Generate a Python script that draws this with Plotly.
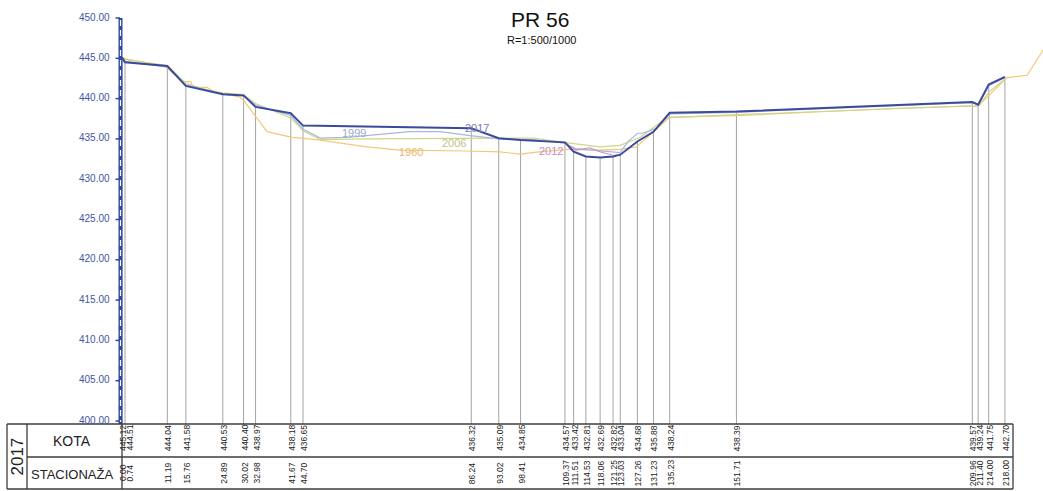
import plotly.graph_objects as go

# ---------------- data ----------------
stations_2017 = [0.00, 0.74, 11.19, 15.76, 24.89, 30.02, 32.98, 41.67, 44.70, 86.24, 93.02, 98.41,
                 109.37, 111.51, 114.53, 118.06, 121.25, 123.03, 127.26, 131.23, 135.23, 151.71,
                 209.96, 211.40, 214.00, 218.00]
kota_2017 = [445.12, 444.51, 444.04, 441.58, 440.53, 440.40, 438.97, 438.18, 436.65, 436.32, 435.09, 434.85,
             434.57, 433.42, 432.81, 432.69, 432.82, 433.04, 434.68, 435.88, 438.24, 438.39,
             439.57, 439.24, 441.75, 442.70]

st_1960 = [0.2, 10.6, 15.0, 17.0, 17.5, 21.0, 23.0, 29.0, 30.0, 35.8, 42.0, 48.0, 60.5, 68.6, 85.0,
           93.3, 98.3, 103.0, 110.0, 118.0, 123.0, 127.0, 135.3, 151.7, 192.0, 211.4, 218.5, 223.5, 227.4]
el_1960 = [445.0, 444.0, 442.1, 442.1, 441.4, 441.4, 440.8, 440.2, 439.8, 435.9, 435.2, 434.9, 434.0, 433.6, 433.5,
           433.4, 433.1, 433.4, 433.7, 433.6, 433.7, 434.0, 437.7, 437.9, 438.8, 439.1, 442.6, 442.9, 446.0]

st_1999 = [0.0, 11.19, 15.76, 24.89, 30.02, 32.98, 41.67, 44.7, 49.0, 55.5, 71.0, 78.5, 86.0, 93.0, 101.5,
           109.0, 112.0, 118.0, 123.0, 125.0, 127.3, 128.5, 132.0, 135.2, 151.7, 209.96, 211.4, 214.0, 218.0]
el_1999 = [444.7, 443.9, 441.7, 440.6, 440.4, 439.2, 437.9, 436.2, 435.1, 435.2, 435.9, 435.9, 435.4, 435.0, 434.9,
           434.5, 433.8, 433.5, 433.3, 434.7, 435.7, 435.7, 436.3, 438.1, 438.3, 439.5, 439.2, 441.6, 442.6]

st_2006 = [0.0, 11.19, 15.76, 20.0, 24.89, 30.02, 32.98, 41.67, 44.7, 49.0, 60.0, 86.0, 93.0, 101.5,
           110.0, 118.0, 123.0, 128.0, 134.5, 151.7, 209.0, 211.4, 214.0, 218.0]
el_2006 = [444.9, 444.1, 441.9, 441.2, 440.7, 440.5, 439.4, 437.6, 436.0, 434.9, 435.0, 435.1, 435.1, 435.1,
           434.5, 434.0, 434.2, 435.2, 437.6, 438.0, 439.1, 439.0, 440.8, 442.4]

st_2012 = [107.0, 109.4, 112.0, 115.5, 118.0, 121.0, 123.0]
el_2012 = [434.6, 434.5, 433.6, 433.9, 433.4, 433.0, 432.95]

y_ticks = [400, 405, 410, 415, 420, 425, 430, 435, 440, 445, 450]

series_labels = [("2017", 87.7, 436.35, "#7a7ab8"),
                 ("1999", 57.3, 435.73, "#9aa8cc"),
                 ("2006", 82.0, 434.49, "#bcc488"),
                 ("1960", 71.4, 433.37, "#e9b865"),
                 ("2012", 105.9, 433.5, "#c88ac8")]

# ---------------- geometry ----------------
W, H = 1043, 491
X0PX, XSCALE = 122.0, 4.05     # px of station 0, px per metre
Y450PX, YSCALE = 18.0, 8.06    # px of elev 450, px per metre

def s2px(s):
    return X0PX + XSCALE * s

def px2e(py):
    return 450 - (py - Y450PX) / YSCALE

def PX(x):
    return x / W

def PY(y):
    return 1 - y / H

x_range = [-X0PX / XSCALE, (W - X0PX) / XSCALE]
y_range = [px2e(H), px2e(0)]

TABLE_TOP, TABLE_MID, TABLE_BOT = 424, 457, 489
TABLE_L, COL1, COL2, TABLE_R = 7, 27, 122, 1013

FONT = "Liberation Sans, Arial, sans-serif"

fig = go.Figure()

shapes = []
annotations = []

def ann(**kw):
    kw.setdefault("showarrow", False)
    kw.setdefault("xanchor", "center")
    kw.setdefault("yanchor", "middle")
    annotations.append(kw)

# vertical station lines
for s, k in zip(stations_2017, kota_2017):
    shapes.append(dict(type="line", xref="x", yref="y", x0=s, x1=s, y0=k, y1=px2e(TABLE_TOP),
                       line=dict(color="#a4a4a4", width=1), layer="below"))

# historical series
def add_line(xs, ys, color, width):
    fig.add_trace(go.Scatter(x=xs, y=ys, mode="lines", line=dict(color=color, width=width),
                             hoverinfo="skip", showlegend=False))

add_line(st_1960, el_1960, "#f2c878", 1.2)
add_line(st_2006, el_2006, "#cfd68c", 1.2)
add_line(st_1999, el_1999, "#a9b7d8", 1.2)
add_line(st_2012, el_2012, "#c890c8", 1.2)
add_line(stations_2017, kota_2017, "#3a4a9c", 2)

for txt, s, e, c in series_labels:
    ann(x=s, y=e, xref="x", yref="y", text=txt, font=dict(family=FONT, size=11, color=c))

# y axis bar
bar_x = PX(120.5)
shapes.append(dict(type="line", xref="paper", yref="paper", x0=bar_x, x1=bar_x,
                   y0=PY(Y450PX), y1=PY(TABLE_TOP), line=dict(color="#3048a0", width=4)))
shapes.append(dict(type="line", xref="paper", yref="paper", x0=bar_x, x1=bar_x,
                   y0=PY(Y450PX + 2), y1=PY(TABLE_TOP - 2),
                   line=dict(color="white", width=1.2, dash="6px,4px")))
for t in y_ticks:
    shapes.append(dict(type="line", xref="paper", yref="y", x0=PX(115.5), x1=PX(120), y0=t, y1=t,
                       line=dict(color="#3048a0", width=1.5)))
    ann(x=PX(112), y=t, xref="paper", yref="y", text=f"{t:.2f}", xanchor="right", yshift=1,
        font=dict(family=FONT, size=10, color="#4355a4"))

# table frame
tc = dict(color="#3c3c3c", width=1.3)
for (x0, y0, x1, y1) in [(TABLE_L, TABLE_TOP, TABLE_R, TABLE_TOP), (COL1, TABLE_MID, TABLE_R, TABLE_MID),
                         (TABLE_L, TABLE_BOT, TABLE_R, TABLE_BOT), (TABLE_L, TABLE_TOP, TABLE_L, TABLE_BOT),
                         (COL1, TABLE_TOP, COL1, TABLE_BOT), (COL2, TABLE_TOP, COL2, TABLE_BOT),
                         (TABLE_R, TABLE_TOP, TABLE_R, TABLE_BOT)]:
    shapes.append(dict(type="line", xref="paper", yref="paper", x0=PX(x0), x1=PX(x1),
                       y0=PY(y0), y1=PY(y1), line=tc))

ann(x=PX(17), y=PY((TABLE_TOP + TABLE_BOT) / 2), xref="paper", yref="paper", text="2017", textangle=-90,
    font=dict(family=FONT, size=17, color="#222"))
ann(x=PX(72), y=PY(441), xref="paper", yref="paper", text="KOTA",
    font=dict(family=FONT, size=14, color="#222"))
ann(x=PX(72), y=PY(474), xref="paper", yref="paper", text="STACIONAŽA",
    font=dict(family=FONT, size=13, color="#222"))

# table values, spread apart where stations are too close
prev = -1e9
MIN_GAP = 6.5
for s, k in zip(stations_2017, kota_2017):
    px = s2px(s) + 1
    shift = 0.0
    if px - prev < MIN_GAP:
        shift = prev + MIN_GAP - px
    prev = px + shift
    for val, ypx in ((k, 438), (s, 473)):
        ann(x=s, y=PY(ypx), xref="x", yref="paper", text=f"{val:.2f}", textangle=-90, xshift=1 + shift,
            font=dict(family="Liberation Sans Narrow, " + FONT, size=8.5, color="#222"))

# title
ann(x=PX(540), y=PY(20), xref="paper", yref="paper", text="PR 56",
    font=dict(family=FONT, size=21, color="#111"))
ann(x=PX(541), y=PY(40), xref="paper", yref="paper", text="R=1:500/1000",
    font=dict(family=FONT, size=11, color="#111"))

fig.update_layout(
    width=W, height=H, margin=dict(l=0, r=0, t=0, b=0),
    paper_bgcolor="white", plot_bgcolor="white",
    xaxis=dict(range=x_range, visible=False, fixedrange=True),
    yaxis=dict(range=y_range, visible=False, fixedrange=True),
    shapes=shapes, annotations=annotations, showlegend=False,
)

fig.write_html("out.html", config={"displayModeBar": False},
               post_script="document.body.style.margin='0';document.body.style.overflow='hidden';")
